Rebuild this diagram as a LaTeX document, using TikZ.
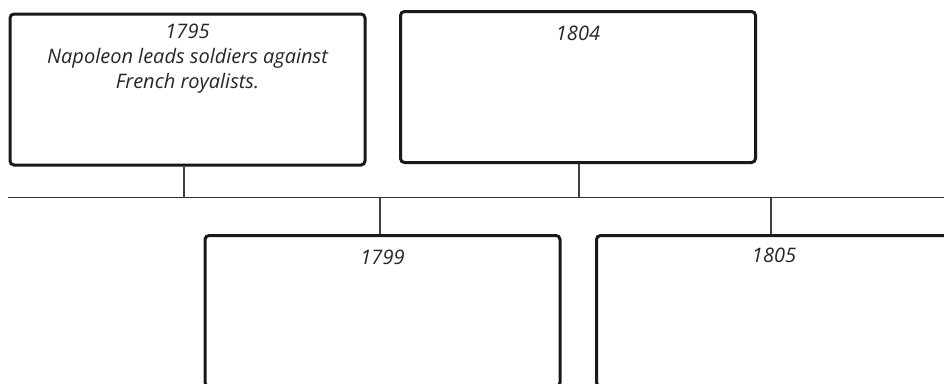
\documentclass[tikz,border=0pt]{standalone}
\usepackage{fontspec}
\setmainfont{Open Sans}
\usetikzlibrary{calc}
\begin{document}
\begin{tikzpicture}[x=1pt,y=-1pt,
  evbox/.style={draw=black!90, line width=3pt, rounded corners=4pt, fill=white,
    minimum width=355pt, minimum height=151pt, inner sep=0pt},
  yearlabel/.style={font=\fontsize{20}{25}\selectfont\itshape, text=black!85, inner sep=0pt, anchor=north, align=center},
  stem/.style={draw=black!75, line width=1.3pt},
  axis/.style={draw=black!80, line width=1.4pt}]
\useasboundingbox (0,0) rectangle (944,383);
\clip (0,0) rectangle (944,383);
\coordinate (tl) at (8,197.5);
\coordinate (tr) at (950,197.5);
\draw[axis] (tl) -- (tr);
\node[evbox] (b1) at (187.5,89.5) {};
\node[evbox] (b2) at (578,87) {};
\node[evbox] (b3) at (382.5,311) {};
\node[evbox] (b4) at (774,311) {};
\coordinate (j1) at (184,197.5);
\coordinate (j2) at (579,197.5);
\coordinate (j3) at (380,197.5);
\coordinate (j4) at (771,197.5);
\draw[stem] (j1) -- (j1 |- b1.south);
\draw[stem] (j2) -- (j2 |- b2.south);
\draw[stem] (j3) -- (j3 |- b3.north);
\draw[stem] (j4) -- (j4 |- b4.north);
\node[yearlabel] (t1) at ($(b1.north)+(0,11.5)$) {1795\\Napoleon leads soldiers against\\French royalists.};
\node[yearlabel] (t2) at ($(b2.north)+(0,16)$) {1804};
\node[yearlabel] (t3) at ($(b3.north)+(0,15.5)$) {1799};
\node[yearlabel] (t4) at ($(b4.north)+(0,14)$) {1805};
\end{tikzpicture}
\end{document}
